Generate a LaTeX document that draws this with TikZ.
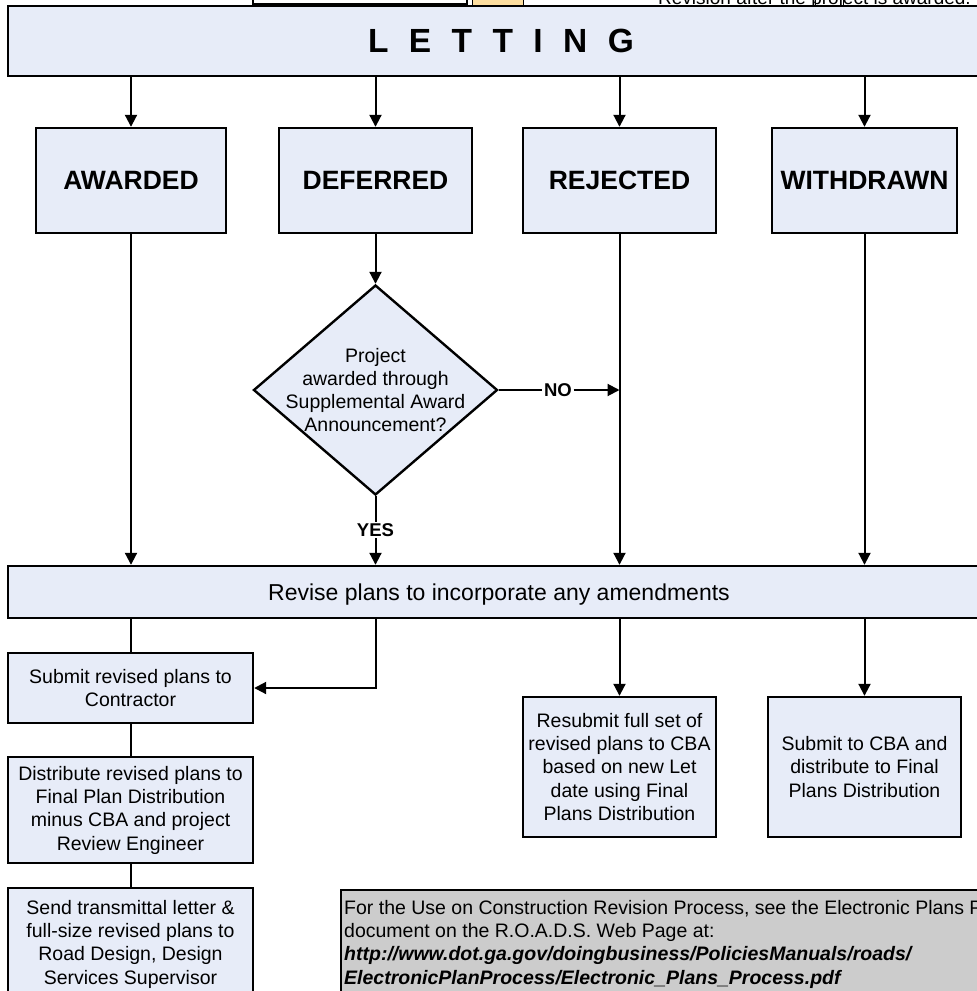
\documentclass[tikz,border=0pt]{standalone}
\usepackage{fontspec}
\setmainfont{Liberation Sans}
\usetikzlibrary{arrows.meta,shapes.geometric}
\definecolor{boxblue}{RGB}{231,236,248}
\definecolor{notegray}{RGB}{204,204,204}
\definecolor{topor}{RGB}{253,222,160}
\begin{document}
\begin{tikzpicture}[x=1pt,y=-1pt,
  box/.style={draw, line width=2.4pt, fill=boxblue, align=center, inner sep=0pt},
  bodyfont/.style={font=\fontsize{19.5}{23.3}\selectfont},
  headfont/.style={font=\fontsize{26.5}{30}\selectfont\bfseries},
  conn/.style={line width=2pt},
  arr/.style={conn, -{Triangle[length=12pt,width=12pt]}},
  lab/.style={inner sep=1.5pt, font=\fontsize{18.5}{20}\selectfont\bfseries},
]
\useasboundingbox (0,0) rectangle (977,991);
\clip (0,0) rectangle (977,991);

% cut-off elements at the top edge
\node[draw, line width=2.4pt, fill=white, minimum width=214pt, minimum height=60pt, anchor=south west, inner sep=0pt] (topbox) at (252,5.5) {};
\node[draw, line width=1pt, fill=topor, minimum width=51pt, minimum height=60pt, anchor=south west, inner sep=0pt] (toporange) at (472,5.5) {};
\node[anchor=base west, inner sep=0pt, font=\fontsize{19}{22}\selectfont] (revtxt) at (658,4.5) {Revision after the project is awarded.};
\draw[line width=0.8pt] (815,-10) -- (815,6);
\draw[line width=0.8pt] (843,-10) -- (843,6);

% LETTING
\node[box, minimum width=982pt, minimum height=70pt, font=\fontsize{33.5}{36}\selectfont\bfseries] (let) at (499,41)
  {\hspace{4pt}L\hspace{20.4pt}E\hspace{20.4pt}T\hspace{20.4pt}T\hspace{20.4pt}I\hspace{20.4pt}N\hspace{20.4pt}G};

% outcome boxes
\node[box, headfont, minimum width=190pt, minimum height=105pt] (aw) at (131,180.5) {AWARDED};
\node[box, headfont, minimum width=193pt, minimum height=105pt] (def) at (375.5,180.5) {DEFERRED};
\node[box, headfont, minimum width=193pt, minimum height=105pt] (rej) at (619.5,180.5) {REJECTED};
\node[box, headfont, minimum width=185pt, minimum height=105pt] (wd) at (864.5,180.5) {WITHDRAWN};

\draw[arr] (let.south -| aw.north) -- (aw.north);
\draw[arr] (let.south -| def.north) -- (def.north);
\draw[arr] (let.south -| rej.north) -- (rej.north);
\draw[arr] (let.south -| wd.north) -- (wd.north);

% decision
\node[diamond, draw, line width=2.4pt, fill=boxblue, minimum width=244pt, minimum height=210pt, inner sep=0pt] (dia) at (375.5,390) {};
\node[bodyfont, align=center, inner sep=0pt] (diatxt) at (dia.center) {Project\\awarded through\\Supplemental Award\\Announcement?};
\draw[arr] (def.south) -- (dia.north);

% revise
\node[box, minimum width=982pt, minimum height=52pt, font=\fontsize{23}{27}\selectfont, text depth=0pt] (rev) at (499,592) {Revise plans to incorporate any amendments};

\node[lab] (no) at (558,390) {NO};
\node[lab] (yes) at (375.5,530) {YES};
\draw[conn] (dia.east) -- (no.west);
\draw[arr] (no.east) -- (no.east -| rej.south);
\draw[conn] (dia.south) -- (yes.north);
\draw[arr] (yes.south) -- (yes.south |- rev.north);
\draw[arr] (aw.south) -- (aw.south |- rev.north);
\draw[arr] (rej.south) -- (rej.south |- rev.north);
\draw[arr] (wd.south) -- (wd.south |- rev.north);

% lower boxes
\node[box, bodyfont, minimum width=245pt, minimum height=70pt] (sub) at (130.5,688) {Submit revised plans to\\Contractor};
\node[box, bodyfont, minimum width=245pt, minimum height=106pt] (dist) at (130.5,810) {Distribute revised plans to\\Final Plan Distribution\\minus CBA and project\\Review Engineer};
\node[box, bodyfont, minimum width=245pt, minimum height=112pt] (send) at (130.5,944) {Send transmittal letter \&\\full-size revised plans to\\Road Design, Design\\Services Supervisor};
\node[box, bodyfont, minimum width=193pt, minimum height=140pt] (resub) at (619.5,767) {Resubmit full set of\\revised plans to CBA\\based on new Let\\date using Final\\Plans Distribution};
\node[box, bodyfont, minimum width=193pt, minimum height=140pt] (cba) at (864.5,767) {Submit to CBA and\\distribute to Final\\Plans Distribution};

\draw[conn] (rev.south -| sub.north) -- (sub.north);
\draw[arr] (rev.south -| def.south) |- (sub.east);
\draw[conn] (sub.south) -- (dist.north);
\draw[conn] (dist.south) -- (send.north);
\draw[arr] (rev.south -| resub.north) -- (resub.north);
\draw[arr] (rev.south -| cba.north) -- (cba.north);

% note
\node[draw, line width=2.4pt, fill=notegray, minimum width=660pt, minimum height=111pt, anchor=north west, inner sep=0pt] (note) at (340,889) {};
\node[anchor=north west, inner sep=0pt, align=left, bodyfont] (notetxt) at (344,900) {For the Use on Construction Revision Process, see the Electronic Plans Process\\document on the R.O.A.D.S. Web Page at:\\\textbf{\textit{http://www.dot.ga.gov/doingbusiness/PoliciesManuals/roads/}}\\\textbf{\textit{ElectronicPlanProcess/Electronic\_Plans\_Process.pdf}}};
\end{tikzpicture}
\end{document}
